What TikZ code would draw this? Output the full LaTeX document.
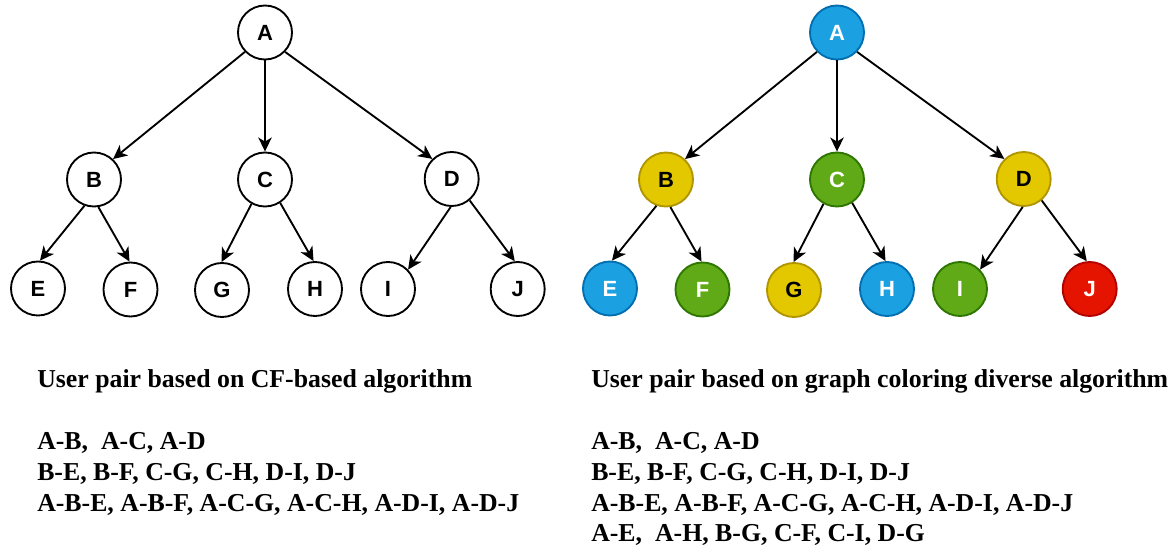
\documentclass[tikz,border=0pt]{standalone}
\usepackage{fontspec}
\setmainfont{Liberation Serif}
\newfontfamily\labelfont{Liberation Sans}
\usetikzlibrary{arrows.meta}

% fill / stroke pairs for the coloured vertices
\definecolor{blueFill}{HTML}{1BA1E2}
\definecolor{blueLine}{HTML}{006EAF}
\definecolor{yellowFill}{HTML}{E3C800}
\definecolor{yellowLine}{HTML}{B09500}
\definecolor{greenFill}{HTML}{60A917}
\definecolor{greenLine}{HTML}{2D7600}
\definecolor{redFill}{HTML}{E51400}
\definecolor{redLine}{HTML}{B20000}

\begin{document}
\begin{tikzpicture}[x=0.75pt,y=-0.75pt,
  vertex/.style={circle, draw=black, fill=white, line width=1.4pt,
    minimum size=40.5pt, inner sep=0pt,
    font=\labelfont\bfseries\fontsize{16.5}{16.5}\selectfont},
  bluev/.style={vertex, fill=blueFill, draw=blueLine, text=white},
  yellowv/.style={vertex, fill=yellowFill, draw=yellowLine, text=black},
  greenv/.style={vertex, fill=greenFill, draw=greenLine, text=white},
  redv/.style={vertex, fill=redFill, draw=redLine, text=white},
  link/.style={line width=1.4pt, draw=black,
    -{Stealth[length=10.5pt,width=10pt,inset=3pt]}},
  caption/.style={anchor=base west, inner sep=0pt,
    font=\bfseries\fontsize{19.35}{23}\selectfont}]

\useasboundingbox (0,0) rectangle (1172,552);

% ---- left tree: plain vertices ----
\node[vertex] (lA) at (265,32.5) {A};
\node[vertex] (lB) at (94,179.5) {B};
\node[vertex] (lC) at (265,179.5) {C};
\node[vertex] (lD) at (451.7,179) {D};
\node[vertex] (lE) at (38,288.5) {E};
\node[vertex] (lF) at (130.5,289.5) {F};
\node[vertex] (lG) at (222,290) {G};
\node[vertex] (lH) at (315,289) {H};
\node[vertex] (lI) at (388,289) {I};
\node[vertex] (lJ) at (517.7,289) {J};

% ---- right tree: coloured vertices ----
\node[bluev]   (rA) at (837,32.5) {A};
\node[yellowv] (rB) at (666,179.5) {B};
\node[greenv]  (rC) at (837,179.5) {C};
\node[yellowv] (rD) at (1023.7,179) {D};
\node[bluev]   (rE) at (610,288.5) {E};
\node[greenv]  (rF) at (702.5,289.5) {F};
\node[yellowv] (rG) at (794,290) {G};
\node[bluev]   (rH) at (887,289) {H};
\node[greenv]  (rI) at (960,289) {I};
\node[redv]    (rJ) at (1089.7,289) {J};

% ---- edges of both trees ----
\foreach \p in {l,r}{
  \draw[link] (\p A.224) -- (\p B.47);
  \draw[link] (\p A.270) -- (\p C.90);
  \draw[link] (\p A.316) -- (\p D.134);
  \draw[link] (\p B.250) -- (\p E.86);
  \draw[link] (\p B.279) -- (\p F.92);
  \draw[link] (\p C.241) -- (\p G.91);
  \draw[link] (\p C.303) -- (\p H.93);
  \draw[link] (\p D.268) -- (\p I.44);
  \draw[link] (\p D.310) -- (\p J.96);
}

% ---- captions and pair lists ----
\node[caption] (ltitle) at (37,387.5) {User pair based on CF-based algorithm};
\node[caption] (lpair1) at (37,449.5) {A-B,~~A-C, A-D};
\node[caption] (lpair2) at (37,480.3) {B-E, B-F, C-G, C-H, D-I, D-J};
\node[caption] (lpair3) at (37,511.1) {A-B-E, A-B-F, A-C-G, A-C-H, A-D-I, A-D-J};

\node[caption] (rtitle) at (591,387.5) {User pair based on graph coloring diverse algorithm};
\node[caption] (rpair1) at (591,449.5) {A-B,~~A-C, A-D};
\node[caption] (rpair2) at (591,480.3) {B-E, B-F, C-G, C-H, D-I, D-J};
\node[caption] (rpair3) at (591,511.1) {A-B-E, A-B-F, A-C-G, A-C-H, A-D-I, A-D-J};
\node[caption] (rpair4) at (591,541.9) {A-E,~~A-H, B-G, C-F, C-I, D-G};
\end{tikzpicture}
\end{document}
